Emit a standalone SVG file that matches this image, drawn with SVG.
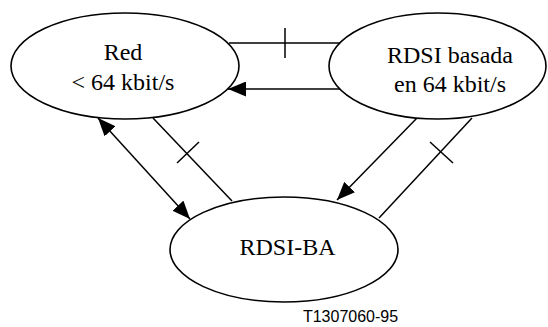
<svg xmlns="http://www.w3.org/2000/svg" width="548" height="327" viewBox="0 0 548 327">
<style>
.node ellipse{fill:#fff;stroke:#000;stroke-width:1.6}
.lbl{font-family:"Liberation Serif","Times New Roman",serif;font-size:24px;fill:#000;text-anchor:middle}
.cap{font-family:"Liberation Sans",Arial,sans-serif;font-size:16px;fill:#000;text-anchor:middle}
.conn line{stroke:#000;stroke-width:1.5;fill:none}
</style>
<defs>
<marker id="ah" viewBox="0 0 18 15" refX="18" refY="7.5" markerWidth="18" markerHeight="15" markerUnits="userSpaceOnUse" orient="auto-start-reverse">
<path d="M0,0 L18,7.5 L0,15 z" fill="#000"/>
</marker>
</defs>
<g id="connectors" class="conn">
<line x1="229" y1="43" x2="340" y2="43"/>
<line x1="285" y1="28" x2="285" y2="58"/>
<line x1="341" y1="89" x2="228" y2="89" marker-end="url(#ah)"/>
<line x1="98" y1="118" x2="190" y2="219" marker-start="url(#ah)" marker-end="url(#ah)"/>
<line x1="153" y1="118" x2="232" y2="201"/>
<line x1="177" y1="163" x2="199" y2="142"/>
<line x1="417" y1="118" x2="337" y2="200" marker-end="url(#ah)"/>
<line x1="472" y1="118" x2="379" y2="218"/>
<line x1="430" y1="142" x2="453" y2="163"/>
</g>
<g id="red" class="node">
<ellipse cx="125" cy="66" rx="114" ry="53"/>
<text class="lbl" x="123" y="60">Red</text>
<text class="lbl" x="123" y="90">&lt; 64 kbit/s</text>
</g>
<g id="rdsi64" class="node">
<ellipse cx="437.5" cy="66" rx="108.5" ry="53"/>
<text class="lbl" x="450" y="63">RDSI basada</text>
<text class="lbl" x="450" y="92">en 64 kbit/s</text>
</g>
<g id="rdsiba" class="node">
<ellipse cx="284" cy="249.5" rx="114" ry="52.5"/>
<text class="lbl" x="287.5" y="255">RDSI-BA</text>
</g>
<text class="cap" x="350.5" y="322">T1307060-95</text>
</svg>
